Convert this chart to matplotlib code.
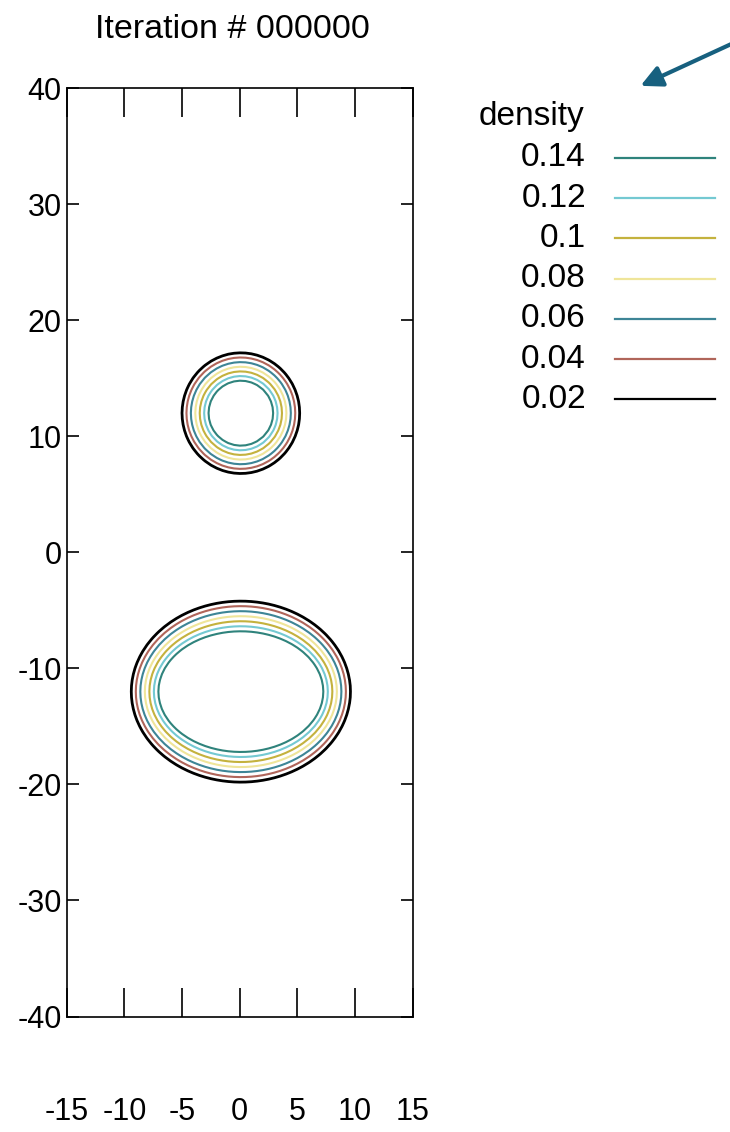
import matplotlib
matplotlib.use("Agg")
import matplotlib.pyplot as plt
from matplotlib.lines import Line2D
from matplotlib.patches import FancyArrowPatch
import numpy as np

plt.rcParams['font.family'] = ['Liberation Sans', 'DejaVu Sans']
plt.rcParams['axes.unicode_minus'] = False

# contour levels and their line colours (legend order: top to bottom)
levels = [0.14, 0.12, 0.1, 0.08, 0.06, 0.04, 0.02]
level_labels = ["0.14", "0.12", "0.1", "0.08", "0.06", "0.04", "0.02"]
level_colors = ["#2f837c", "#74c9d2", "#c4b23e", "#efe59a", "#3d8596", "#b0655a", "#000000"]

# two blobs: centre, outer (0.02) and inner (0.14) semi-axes
blob_cx = [0.1, 0.1]
blob_cy = [12.0, -12.0]
outer_ax = [5.1, 9.5]
outer_ay = [5.2, 7.8]
inner_ax = [2.8, 7.15]
inner_ay = [2.8, 5.2]

x_ticks = [-15, -10, -5, 0, 5, 10, 15]
y_ticks = [-40, -30, -20, -10, 0, 10, 20, 30, 40]

# density field on a coarse grid (the original output is stair-stepped)
xg = np.arange(-15, 15.01, 0.5) + 0.01
yg = np.arange(-40, 40.01, 0.5) + 0.01
X, Y = np.meshgrid(xg, yg)
Z = np.zeros_like(X)
with np.errstate(divide="ignore", invalid="ignore"):
    for cx, cy, ao, bo, ai, bi in zip(blob_cx, blob_cy, outer_ax, outer_ay, inner_ax, inner_ay):
        dx, dy = X - cx, Y - cy
        s_o = np.sqrt((dx / ao) ** 2 + (dy / bo) ** 2)
        s_i = np.sqrt((dx / ai) ** 2 + (dy / bi) ** 2)
        t = (1 / s_o - 1) / (1 / s_o - 1 / s_i)
        d = np.clip(0.02 + 0.12 * t, 0, 0.16)
        Z = np.maximum(Z, np.nan_to_num(d, nan=0.16))

W, H = 730, 1132
fig = plt.figure(figsize=(W / 100, H / 100), dpi=100)
ax = fig.add_axes([66.7 / W, 1 - 1016.5 / H, (412.7 - 66.7) / W, (1016.5 - 88.3) / H])

order = np.argsort(levels)
lv = [levels[i] for i in order]
cols = [level_colors[i] for i in order]
lws = [2.0 if l == 0.02 else 1.5 for l in lv]
ax.contour(X, Y, Z, levels=lv, colors=cols, linewidths=lws)

ax.set_xlim(-15, 15)
ax.set_ylim(-40, 40)
ax.set_xticks(x_ticks)
ax.set_yticks(y_ticks)
ax.set_xticklabels([str(v) for v in x_ticks])
ax.set_yticklabels([str(v) for v in y_ticks])
ax.tick_params(axis="x", direction="in", top=True, length=21, width=1.2,
               pad=58, labelsize=22)
ax.tick_params(axis="y", direction="in", right=True, length=8.6, width=1.2,
               pad=3.5, labelsize=22)
for s in ax.spines.values():
    s.set_linewidth(1.2)

ax.set_title("Iteration # 000000", fontsize=24.5, pad=36, x=0.48)

# legend drawn by hand to match the original layout
fig.text(584 / W, 1 - 117 / H, "density", fontsize=24, ha="right", va="center")
for i, (lab, col) in enumerate(zip(level_labels, level_colors)):
    yy = 1 - (158 + 40.2 * i) / H
    fig.text(586 / W, yy, lab, fontsize=24, ha="right", va="center")
    fig.add_artist(Line2D([615 / W, 715 / W], [yy, yy], transform=fig.transFigure,
                          color=col, linewidth=1.6))

arrow = FancyArrowPatch((740 / W, 1 - 40 / H), (638 / W, 1 - 87 / H),
                        transform=fig.transFigure, arrowstyle="-|>",
                        mutation_scale=32, color="#17607f", linewidth=3)
fig.add_artist(arrow)

fig.savefig("out.png", dpi=100)
plt.close()
